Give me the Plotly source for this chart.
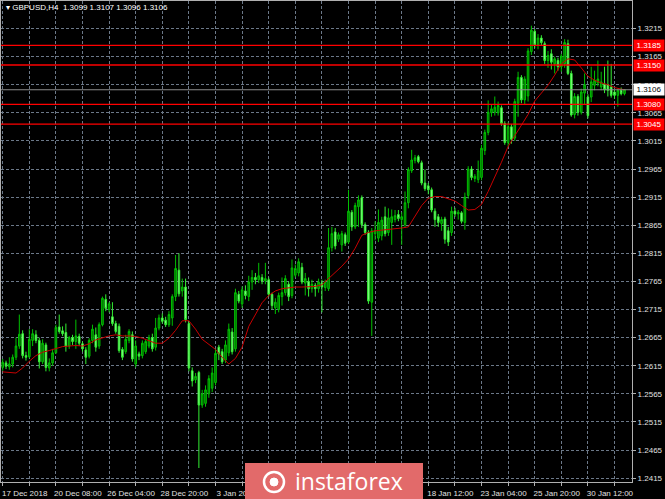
import plotly.graph_objects as go

# ---------------- data ----------------
opens = [
 1.2612,1.2620,1.2613,1.2618,1.2630,1.2650,1.2672,1.2633,1.2631,1.2660,
 1.2670,1.2660,1.2622,1.2652,1.2611,1.2620,1.2638,1.2684,1.2677,1.2674,
 1.2650,1.2665,1.2658,1.2667,1.2654,1.2643,1.2632,1.2660,1.2670,1.2650,
 1.2688,1.2733,1.2715,1.2702,1.2690,1.2685,1.2644,1.2640,1.2660,1.2670,
 1.2618,1.2636,1.2633,1.2640,1.2650,1.2665,1.2648,1.2682,1.2700,1.2696,
 1.2688,1.2700,1.2738,1.2785,1.2748,1.2755,1.2690,1.2606,1.2590,1.2603,
 1.2545,1.2548,1.2565,1.2575,1.2585,1.2648,1.2640,1.2625,1.2638,1.2675,
 1.2645,1.2742,1.2725,1.2748,1.2738,1.2764,1.2772,1.2768,1.2772,1.2766,
 1.2768,1.2742,1.2718,1.2715,1.2738,1.2745,1.2760,1.2740,1.2776,1.2780,
 1.2790,1.2762,1.2765,1.2752,1.2758,1.2752,1.2762,1.2754,1.2752,1.2825,
 1.2853,1.2840,1.2830,1.2848,1.2835,1.2888,1.2862,1.2898,1.2914,1.2866,
 1.2852,1.2728,1.2850,1.2842,1.2846,1.2880,1.2852,1.2870,1.2875,1.2884,
 1.2875,1.2866,1.2905,1.2962,1.2980,1.2987,1.2976,1.2940,1.2935,1.2928,
 1.2890,1.2880,1.2868,1.2876,1.2855,1.2852,1.2890,1.2885,1.2887,1.2870,
 1.2918,1.2965,1.2948,1.2946,1.2950,1.2998,1.3030,1.3065,1.3066,1.3065,
 1.3074,1.3046,1.3012,1.3040,1.3020,1.3082,1.3128,1.3088,1.3095,1.3174,
 1.3210,1.3186,1.3198,1.3188,1.3158,1.3170,1.3152,1.3158,1.3147,1.3152,
 1.3188,1.3135,1.3062,1.3094,1.3066,1.3100,1.3093,1.3093,1.3114,1.3118,
 1.3111,1.3116,1.3115,1.3111,1.3102,1.3096,1.3105,1.3099,
]
highs = [
 1.2627,1.2624,1.2630,1.2635,1.2665,1.2706,1.2678,1.2640,1.2680,1.2680,
 1.2678,1.2665,1.2662,1.2656,1.2628,1.2645,1.2688,1.2706,1.2685,1.2690,
 1.2668,1.2670,1.2697,1.2672,1.2658,1.2648,1.2664,1.2688,1.2683,1.2692,
 1.2738,1.2742,1.2728,1.2728,1.2695,1.2690,1.2648,1.2670,1.2680,1.2676,
 1.2660,1.2640,1.2660,1.2662,1.2670,1.2672,1.2700,1.2706,1.2708,1.2702,
 1.2712,1.2742,1.2812,1.2815,1.2770,1.2770,1.2695,1.2612,1.2602,1.2606,
 1.2572,1.2580,1.2598,1.2612,1.2645,1.2652,1.2645,1.2660,1.2690,1.2682,
 1.2752,1.2748,1.2756,1.2758,1.2775,1.2785,1.2780,1.2798,1.2778,1.2798,
 1.2772,1.2745,1.2735,1.2745,1.2772,1.2776,1.2765,1.2804,1.2795,1.2806,
 1.2798,1.2780,1.2772,1.2768,1.2762,1.2770,1.2768,1.2768,1.2860,1.2862,
 1.2860,1.2852,1.2855,1.2852,1.2928,1.2892,1.2905,1.2918,1.2918,1.2870,
 1.2856,1.2860,1.2872,1.2893,1.2880,1.2898,1.2895,1.2893,1.2892,1.2892,
 1.2888,1.2925,1.2968,1.2999,1.2990,1.2990,1.2980,1.2964,1.2940,1.2932,
 1.2895,1.2885,1.2880,1.2880,1.2862,1.2898,1.2896,1.2892,1.2890,1.2923,
 1.2970,1.2970,1.2956,1.2980,1.3008,1.3035,1.3087,1.3080,1.3094,1.3085,
 1.3078,1.3050,1.3048,1.3045,1.3090,1.3138,1.3132,1.3130,1.3180,1.3220,
 1.3214,1.3205,1.3203,1.3192,1.3175,1.3178,1.3165,1.3163,1.3170,1.3196,
 1.3195,1.3140,1.3100,1.3098,1.3108,1.3135,1.3098,1.3147,1.3140,1.3158,
 1.3138,1.3147,1.3158,1.3152,1.3106,1.3108,1.3110,1.3107,
]
lows = [
 1.2606,1.2609,1.2608,1.2612,1.2625,1.2645,1.2628,1.2624,1.2628,1.2650,
 1.2655,1.2610,1.2618,1.2605,1.2605,1.2615,1.2636,1.2672,1.2668,1.2640,
 1.2645,1.2652,1.2645,1.2650,1.2640,1.2618,1.2628,1.2655,1.2640,1.2645,
 1.2685,1.2712,1.2710,1.2686,1.2672,1.2638,1.2625,1.2636,1.2655,1.2622,
 1.2612,1.2625,1.2628,1.2636,1.2646,1.2640,1.2642,1.2678,1.2690,1.2684,
 1.2684,1.2686,1.2730,1.2738,1.2738,1.2692,1.2605,1.2578,1.2584,1.2433,
 1.2540,1.2542,1.2558,1.2568,1.2580,1.2625,1.2618,1.2620,1.2632,1.2635,
 1.2640,1.2726,1.2718,1.2733,1.2730,1.2750,1.2760,1.2762,1.2760,1.2760,
 1.2738,1.2715,1.2707,1.2710,1.2722,1.2740,1.2730,1.2735,1.2772,1.2774,
 1.2760,1.2740,1.2738,1.2745,1.2738,1.2745,1.2710,1.2748,1.2748,1.2818,
 1.2822,1.2835,1.2818,1.2828,1.2832,1.2855,1.2858,1.2862,1.2860,1.2848,
 1.2725,1.2668,1.2838,1.2835,1.2838,1.2845,1.2846,1.2830,1.2870,1.2872,
 1.2830,1.2860,1.2895,1.2958,1.2975,1.2975,1.2936,1.2926,1.2920,1.2888,
 1.2862,1.2862,1.2855,1.2832,1.2828,1.2846,1.2880,1.2875,1.2868,1.2857,
 1.2912,1.2945,1.2942,1.2940,1.2945,1.2990,1.3025,1.3058,1.3060,1.3060,
 1.3042,1.3008,1.3005,1.3010,1.3015,1.3058,1.3082,1.3080,1.3085,1.3168,
 1.3180,1.3178,1.3185,1.3152,1.3145,1.3142,1.3135,1.3140,1.3138,1.3145,
 1.3132,1.3058,1.3055,1.3060,1.3062,1.3080,1.3055,1.3084,1.3105,1.3112,
 1.3105,1.3100,1.3094,1.3092,1.3090,1.3076,1.3096,1.3096,
]
closes = [
 1.2621,1.2614,1.2618,1.2630,1.2650,1.2671,1.2633,1.2630,1.2662,1.2672,
 1.2660,1.2622,1.2655,1.2612,1.2620,1.2638,1.2683,1.2676,1.2672,1.2650,
 1.2665,1.2658,1.2668,1.2655,1.2645,1.2630,1.2660,1.2680,1.2648,1.2688,
 1.2735,1.2717,1.2725,1.2690,1.2676,1.2642,1.2630,1.2662,1.2676,1.2627,
 1.2650,1.2632,1.2655,1.2658,1.2665,1.2645,1.2682,1.2700,1.2694,1.2688,
 1.2706,1.2738,1.2788,1.2743,1.2755,1.2697,1.2611,1.2588,1.2596,1.2545,
 1.2565,1.2572,1.2592,1.2602,1.2637,1.2636,1.2622,1.2652,1.2680,1.2640,
 1.2745,1.2730,1.2750,1.2740,1.2764,1.2772,1.2768,1.2775,1.2766,1.2770,
 1.2742,1.2722,1.2728,1.2740,1.2745,1.2770,1.2738,1.2789,1.2788,1.2800,
 1.2764,1.2770,1.2752,1.2760,1.2752,1.2764,1.2755,1.2764,1.2825,1.2850,
 1.2828,1.2848,1.2850,1.2833,1.2890,1.2862,1.2900,1.2910,1.2866,1.2852,
 1.2730,1.2855,1.2856,1.2870,1.2874,1.2850,1.2878,1.2880,1.2882,1.2877,
 1.2880,1.2905,1.2964,1.2981,1.2985,1.2978,1.2940,1.2930,1.2928,1.2892,
 1.2875,1.2870,1.2875,1.2840,1.2835,1.2890,1.2885,1.2888,1.2872,1.2915,
 1.2965,1.2950,1.2952,1.2962,1.3002,1.3030,1.3066,1.3072,1.3075,1.3078,
 1.3046,1.3012,1.3040,1.3018,1.3085,1.3128,1.3088,1.3125,1.3175,1.3212,
 1.3186,1.3198,1.3190,1.3158,1.3167,1.3155,1.3161,1.3147,1.3166,1.3190,
 1.3135,1.3061,1.3094,1.3066,1.3102,1.3115,1.3060,1.3120,1.3123,1.3125,
 1.3120,1.3106,1.3105,1.3096,1.3096,1.3105,1.3099,1.3106,
]
bars = list(range(len(closes)))

ma_bars = list(range(0, 188, 2)) + [187]
ma_values = [
 1.2604,1.2603,1.2602,1.2611,1.2623,1.2633,1.2639,1.2642,1.2646,1.2649,
 1.2650,1.2651,1.2650,1.2654,1.2661,1.2665,1.2668,1.2670,1.2668,1.2668,
 1.2667,1.2664,1.2660,1.2655,1.2655,1.2664,1.2678,1.2695,1.2695,1.2680,
 1.2662,1.2653,1.2644,1.2630,1.2618,1.2628,1.2648,1.2685,1.2705,1.2727,
 1.2740,1.2748,1.2752,1.2754,1.2755,1.2755,1.2755,1.2756,1.2759,1.2770,
 1.2782,1.2792,1.2805,1.2824,1.2847,1.2852,1.2855,1.2856,1.2858,1.2859,
 1.2860,1.2862,1.2880,1.2900,1.2913,1.2916,1.2916,1.2912,1.2908,1.2900,
 1.2892,1.2893,1.2902,1.2925,1.2950,1.2977,1.3005,1.3024,1.3042,1.3062,
 1.3086,1.3100,1.3114,1.3132,1.3152,1.3161,1.3159,1.3145,1.3130,1.3123,
 1.3118,1.3115,1.3110,1.3107,1.3106,
]

level_prices = [1.3185, 1.3150, 1.3080, 1.3045]
level_labels = ["1.3185", "1.3150", "1.3080", "1.3045"]
bid_price = 1.3106
bid_label = "1.3106"

y_tick_vals = [1.2415, 1.2465, 1.2515, 1.2565, 1.2615, 1.2665, 1.2715, 1.2765,
               1.2815, 1.2865, 1.2915, 1.2965, 1.3015, 1.3065, 1.3115, 1.3165, 1.3215]
y_tick_text = ["1.2415", "1.2465", "1.2515", "1.2565", "1.2615", "1.2665", "1.2715", "1.2765",
               "1.2815", "1.2865", "1.2915", "1.2965", "1.3015", "1.3065", "1.3115", "1.3165", "1.3215"]

x_tick_bars = [0, 8, 16, 24, 32, 40, 48, 56, 64, 72, 80, 88, 96, 104, 112, 120,
               128, 136, 144, 152, 160, 168, 176, 184]
x_tick_text = ["17 Dec 2018", "", "20 Dec 08:00", "", "26 Dec 04:00", "", "28 Dec 20:00", "",
               "3 Jan 20:00", "", "8 Jan 12:00", "", "11 Jan 04:00", "", "15 Jan 20:00", "",
               "18 Jan 12:00", "", "23 Jan 04:00", "", "25 Jan 20:00", "", "30 Jan 12:00", ""]

title_text = "▾ GBPUSD,H4  1.3099 1.3107 1.3096 1.3106"

# ---------------- figure ----------------
W, H = 665, 499
ML, MR, MT, MB = 1, 33, 1, 17
PW, PH = W - ML - MR, H - MT - MB

def px(x):  # pixel x -> paper
    return (x - ML) / PW

def py(y):  # pixel y -> paper
    return (H - MB - y) / PH

FONT = "Liberation Sans"
GRID = "#6b7888"

fig = go.Figure()

fig.add_trace(go.Candlestick(
    x=bars, open=opens, high=highs, low=lows, close=closes,
    increasing=dict(line=dict(color="#00c000", width=1), fillcolor="#006600"),
    decreasing=dict(line=dict(color="#33ee33", width=1), fillcolor="#9cff9c"),
    whiskerwidth=0, hoverinfo="skip",
))

fig.add_trace(go.Scatter(
    x=ma_bars, y=ma_values, mode="lines",
    line=dict(color="#c80000", width=1), hoverinfo="skip",
))

shapes = []
for lv in level_prices:
    shapes.append(dict(type="line", xref="paper", yref="y", x0=0, x1=1, y0=lv, y1=lv,
                       line=dict(color="#ff0000", width=1.3), layer="above"))
shapes.append(dict(type="line", xref="paper", yref="y", x0=0, x1=1, y0=bid_price, y1=bid_price,
                   line=dict(color="#8c8c8c", width=1), layer="above"))
# instaforex logo box
shapes.append(dict(type="rect", xref="paper", yref="paper",
                   x0=px(245), x1=px(423), y0=py(499), y1=py(463),
                   fillcolor="#e26a6a", line=dict(width=0), layer="above"))
shapes.append(dict(type="circle", xref="paper", yref="paper",
                   x0=px(264), x1=px(284), y0=py(492), y1=py(472),
                   line=dict(color="white", width=2.5), layer="above"))
shapes.append(dict(type="circle", xref="paper", yref="paper",
                   x0=px(270), x1=px(278), y0=py(486), y1=py(478),
                   fillcolor="white", line=dict(color="white", width=1), layer="above"))

annotations = []
for lv, lab in zip(level_prices, level_labels):
    annotations.append(dict(xref="paper", yref="y", x=px(633), y=lv, xanchor="left",
                            yanchor="middle", text=lab, showarrow=False,
                            bgcolor="#ff0000", font=dict(color="white", size=8, family=FONT),
                            width=28, borderpad=1))
annotations.append(dict(xref="paper", yref="y", x=px(633), y=bid_price, xanchor="left",
                        yanchor="middle", text=bid_label, showarrow=False,
                        bgcolor="#ffffff", font=dict(color="black", size=8, family=FONT),
                        width=28, borderpad=1))
annotations.append(dict(xref="paper", yref="paper", x=px(4), y=py(8), xanchor="left",
                        yanchor="middle", text=title_text, showarrow=False,
                        font=dict(color="white", size=8, family=FONT)))
annotations.append(dict(xref="paper", yref="paper", x=px(349), y=py(481), xanchor="center",
                        yanchor="middle", text="instaforex", showarrow=False,
                        font=dict(color="white", size=23, family="Open Sans")))

fig.update_layout(
    width=W, height=H,
    margin=dict(l=ML, r=MR, t=MT, b=MB, pad=0),
    paper_bgcolor="black", plot_bgcolor="black",
    showlegend=False,
    shapes=shapes, annotations=annotations,
    font=dict(family=FONT, size=8, color="#e0e0e0"),
    xaxis=dict(
        range=[-0.511, 189.26], rangeslider=dict(visible=False),
        tickmode="array", tickvals=x_tick_bars, ticktext=x_tick_text,
        ticks="outside", ticklen=3, tickcolor="#b0b0b0",
        ticklabelshift=22, ticklabelstandoff=0,
        showgrid=True, gridcolor=GRID, gridwidth=1, griddash="3px,2px",
        showline=True, linecolor="#b0b0b0", linewidth=1, mirror=True,
        zeroline=False, tickfont=dict(color="#e0e0e0", size=8, family=FONT),
    ),
    yaxis=dict(
        side="right", range=[1.24081, 1.32639],
        tickmode="array", tickvals=y_tick_vals, ticktext=y_tick_text,
        ticks="outside", ticklen=3, tickcolor="#b0b0b0",
        showgrid=True, gridcolor=GRID, gridwidth=1, griddash="3px,2px",
        showline=True, linecolor="#b0b0b0", linewidth=1, mirror=True,
        zeroline=False, tickfont=dict(color="#e0e0e0", size=8, family=FONT),
    ),
)

fig.write_html("out.html", config={"displayModeBar": False},
               post_script="document.body.style.margin='0px';document.body.style.background='black';")
